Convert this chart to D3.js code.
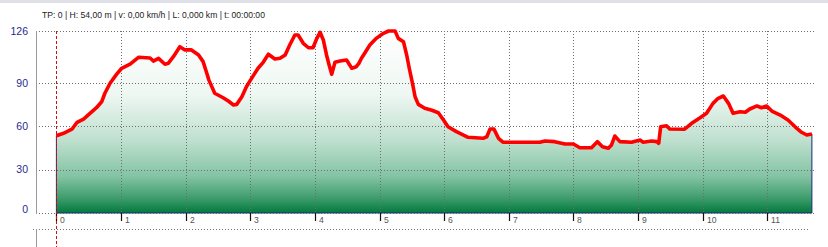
<!DOCTYPE html>
<html>
<head>
<meta charset="utf-8">
<script src="https://cdn.jsdelivr.net/npm/d3@7"></script>
<style>
  body { margin: 0; background: #fff; }
  svg { display: block; font-family: "Liberation Sans", Arial, sans-serif; }
</style>
</head>
<body>
<svg id="chart" width="828" height="247"></svg>
<script>
// distance along track (km) and height (m)
const dist = [0, 0.11, 0.24, 0.32, 0.42, 0.52, 0.62, 0.70, 0.75, 0.83, 0.93, 1.01, 1.14, 1.27, 1.45, 1.50, 1.58, 1.68, 1.73, 1.81,
  1.91, 1.99, 2.09, 2.20, 2.27, 2.32, 2.36, 2.45, 2.58, 2.66, 2.74, 2.79, 2.87, 2.94, 3.02, 3.12, 3.20, 3.28, 3.38, 3.46,
  3.54, 3.61, 3.69, 3.74, 3.82, 3.90, 3.97, 4.03, 4.08, 4.13, 4.18, 4.22, 4.26, 4.31, 4.39, 4.49, 4.57, 4.64, 4.68, 4.72,
  4.77, 4.85, 4.95, 5.06, 5.14, 5.24, 5.29, 5.37, 5.42, 5.46, 5.51, 5.55, 5.60, 5.70, 5.81, 5.91, 5.99, 6.06, 6.19, 6.37,
  6.60, 6.66, 6.71, 6.77, 6.84, 6.91, 7.48, 7.56, 7.71, 7.87, 8.00, 8.10, 8.28, 8.37, 8.45, 8.54, 8.59, 8.64, 8.72, 8.90,
  9.03, 9.08, 9.21, 9.29, 9.32, 9.35, 9.44, 9.49, 9.72, 9.83, 9.96, 10.06, 10.16, 10.24, 10.32, 10.40, 10.47, 10.58, 10.66, 10.73,
  10.84, 10.91, 10.99, 11.07, 11.20, 11.32, 11.43, 11.53, 11.61, 11.69];
const elev = [53.5, 55.2, 58, 62.8, 65, 69, 72.9, 77, 82.9, 89.8, 96, 100.2, 103, 107.8, 107.3, 105.2, 107.1, 103, 103.6, 108.2,
  115.1, 112.9, 112.9, 109.4, 104.8, 97.8, 92, 82.9, 79.8, 77.5, 74.8, 75.2, 80.5, 87.4, 93.2, 100.2, 104.3, 109.9, 106.6, 107.1,
  109.4, 116.3, 123.2, 123.2, 117.5, 114.4, 114.4, 120.9, 125.1, 119.8, 109.4, 102.5, 96, 104.3, 105.2, 105.9, 100.2, 101.3, 103.6, 107.1,
  110.6, 116.3, 120.9, 124.4, 126, 126, 120.9, 118.6, 109.4, 100.2, 89.8, 80.5, 75.2, 72.5, 71.1, 69.4, 64.4, 59.7, 56.3, 52.4,
  51.7, 52.8, 58.2, 58.2, 51.7, 49, 49, 49.8, 49.4, 47.8, 47.8, 45.2, 45.2, 49.4, 45.9, 44.8, 47.1, 53.3, 49.4, 49,
  50.5, 49, 49.8, 49.4, 48.3, 59.7, 60.4, 58.2, 58, 62.1, 66, 69, 75.9, 79.4, 81, 75.9, 69, 70.1, 69.7, 72,
  74.1, 72.9, 74.1, 70.6, 67.8, 64.4, 59.7, 55.9, 54, 54.7];
const yTicks = [0, 30, 60, 90, 126];
const xTicks = [0, 1, 2, 3, 4, 5, 6, 7, 8, 9, 10, 11];
const infoText = "TP: 0 | H: 54,00 m | v: 0,00 km/h | L: 0,000 km | t: 00:00:00";

const data = dist.map((d, i) => ({ d: d, h: elev[i] }));

const svg = d3.select("#chart");
const pLeft = 36, pRight = 816, pTop = 31, pBottom = 213;

const x = d3.scaleLinear().domain([0, 11]).range([56.4, 767.3]);
const y = d3.scaleLinear().domain([0, 126]).range([pBottom, pTop]);

// top strip
svg.append("rect").attr("x", 0).attr("y", 0).attr("width", 828).attr("height", 3).attr("fill", "#e0e0e8");

svg.append("text")
  .attr("x", 42).attr("y", 18)
  .attr("font-size", 8.6)
  .attr("fill", "#222")
  .text(infoText);

// gradient for the area
const grad = svg.append("defs").append("linearGradient")
  .attr("id", "fillGrad")
  .attr("gradientUnits", "userSpaceOnUse")
  .attr("x1", 0).attr("x2", 0)
  .attr("y1", pTop).attr("y2", pBottom);
[[0, "#ffffff"], [0.35, "#eef7f2"], [0.6, "#bfe0cf"], [0.8, "#83c3a3"], [0.92, "#3d9c6c"], [1, "#017a3c"]]
  .forEach(s => grad.append("stop").attr("offset", s[0]).attr("stop-color", s[1]));

// area
const area = d3.area().x(p => x(p.d)).y0(y(0)).y1(p => y(p.h));
svg.append("path")
  .datum(data)
  .attr("d", area)
  .attr("fill", "url(#fillGrad)")
  .attr("stroke", "#1a2a80")
  .attr("stroke-width", 1);

// grid (dotted)
const grid = svg.append("g").attr("stroke", "#6e6e6e").attr("stroke-dasharray", "1,2").attr("stroke-width", 1);
grid.selectAll(".hg").data(yTicks).join("line")
  .attr("x1", pLeft).attr("x2", pRight)
  .attr("y1", d => Math.round(y(d)) + 0.5).attr("y2", d => Math.round(y(d)) + 0.5);
grid.selectAll(".vg").data(xTicks.slice(1)).join("line")
  .attr("x1", d => Math.round(x(d)) + 0.5).attr("x2", d => Math.round(x(d)) + 0.5)
  .attr("y1", pTop).attr("y2", pBottom);

// profile line
const line = d3.line().x(p => x(p.d)).y(p => y(p.h));
svg.append("path")
  .datum(data)
  .attr("d", line)
  .attr("fill", "none")
  .attr("stroke", "#ff0000")
  .attr("stroke-width", 3.6)
  .attr("stroke-linejoin", "round");

// left axis line
svg.append("line").attr("x1", pLeft + 0.5).attr("x2", pLeft + 0.5).attr("y1", pTop).attr("y2", pBottom + 1)
  .attr("stroke", "#999");

// y labels
svg.append("g").selectAll("text").data(yTicks).join("text")
  .attr("x", 28)
  .attr("y", d => Math.min(y(d), 209))
  .attr("dy", "0.35em")
  .attr("text-anchor", "end")
  .attr("font-size", 10.5)
  .attr("fill", "#1f2a8f")
  .text(d => d);

// x ticks
const xt = svg.append("g").selectAll("g").data(xTicks).join("g")
  .attr("transform", d => `translate(${Math.round(x(d)) + 0.5},0)`);
xt.append("line").attr("y1", pBottom).attr("y2", pBottom + 8).attr("stroke", "#111").attr("stroke-width", 1.2);
xt.append("text").attr("x", 3.5).attr("y", 222.5).attr("font-size", 8.6).attr("fill", "#555").text(d => d);

// lower panel
svg.append("line").attr("x1", 33).attr("x2", 810).attr("y1", 229.5).attr("y2", 229.5)
  .attr("stroke", "#777").attr("stroke-dasharray", "1,2");
svg.append("line").attr("x1", pLeft + 0.5).attr("x2", pLeft + 0.5).attr("y1", 229).attr("y2", 247)
  .attr("stroke", "#999");

// cursor line at start
svg.append("line").attr("x1", 56.5).attr("x2", 56.5).attr("y1", pTop).attr("y2", 247)
  .attr("stroke", "#d01010").attr("stroke-dasharray", "3,2");
</script>
</body>
</html>
